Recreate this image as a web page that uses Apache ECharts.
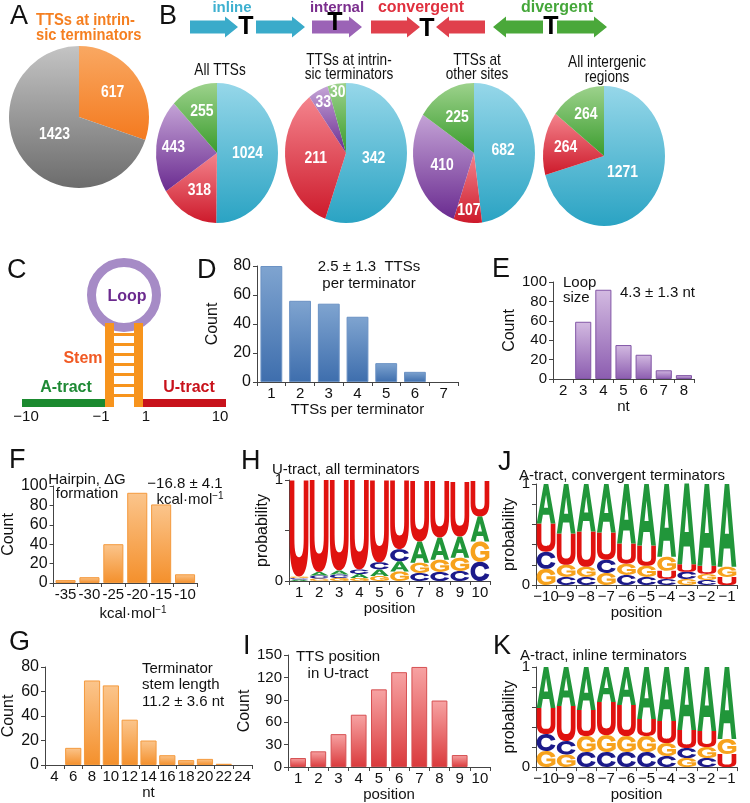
<!DOCTYPE html>
<html><head><meta charset="utf-8">
<script src="https://cdn.jsdelivr.net/npm/echarts@6/dist/echarts.min.js"></script>
<style>html,body{margin:0;padding:0;background:#fff}#c{width:750px;height:803px}</style>
</head><body><div id="c"></div>
<script>
// ================= DATA =================
// Panel A
const pieALabels = ['TTSs at intrinsic terminators', 'other TTSs'];
const pieAValues = [617, 1423];
// Panel B (order: inline, convergent, internal, divergent)
const tssClasses = ['inline', 'convergent', 'internal', 'divergent'];
const allTTSs = [1024, 318, 443, 255];
const intrinsicTTSs = [342, 211, 33, 30];
const otherTTSs = [682, 107, 410, 225];
const intergenicRegions = [1271, 264, 0, 264];
// Panel D
const ttsPerTermCats = ['1', '2', '3', '4', '5', '6', '7'];
const ttsPerTermCounts = [80, 56, 54, 45, 13, 7, 0];
// Panel E
const loopCats = ['2', '3', '4', '5', '6', '7', '8'];
const loopCounts = [0, 59, 92, 35, 25, 9, 4];
// Panel F
const dGCats = ['-35', '-30', '-25', '-20', '-15', '-10'];
const dGCounts = [3, 6, 40, 93, 81, 9];
// Panel G
const stemCats = ['4', '6', '8', '10', '12', '14', '16', '18', '20', '22', '24'];
const stemCounts = [0, 14, 69, 65, 37, 20, 8, 4, 5, 1, 0];
// Panel I
const ttsPosCats = ['1', '2', '3', '4', '5', '6', '7', '8', '9', '10'];
const ttsPosCounts = [12, 21, 44, 70, 104, 127, 134, 89, 16, 0];
// Panel H (U-tract, all terminators), positions 1..10
const uTractPos = ['1', '2', '3', '4', '5', '6', '7', '8', '9', '10'];
const hA = [0.015, 0.035, 0.04, 0.04, 0.065, 0.10, 0.21, 0.22, 0.21, 0.25];
const hC = [0.015, 0.03, 0.035, 0.045, 0.07, 0.12, 0.08, 0.09, 0.10, 0.19];
const hG = [0.015, 0.025, 0.03, 0.03, 0.05, 0.095, 0.10, 0.12, 0.13, 0.20];
const hU = [0.95, 0.91, 0.895, 0.885, 0.81, 0.68, 0.60, 0.56, 0.54, 0.35];
// Panel J (A-tract, convergent), positions -10..-1
const aTractPos = ['\u221210', '\u22129', '\u22128', '\u22127', '\u22126', '\u22125', '\u22124', '\u22123', '\u22122', '\u22121'];
const jA = [0.39, 0.49, 0.47, 0.48, 0.59, 0.61, 0.72, 0.80, 0.81, 0.82];
const jC = [0.17, 0.08, 0.08, 0.13, 0.10, 0.08, 0.06, 0.07, 0.05, 0.0];
const jG = [0.16, 0.12, 0.10, 0.12, 0.11, 0.11, 0.14, 0.06, 0.06, 0.10];
const jU = [0.28, 0.31, 0.35, 0.27, 0.20, 0.20, 0.08, 0.075, 0.08, 0.08];
// Panel K (A-tract, inline)
const kA = [0.41, 0.39, 0.43, 0.35, 0.38, 0.52, 0.54, 0.63, 0.64, 0.72];
const kC = [0.17, 0.135, 0.15, 0.15, 0.15, 0.15, 0.11, 0.10, 0.09, 0.0];
const kG = [0.16, 0.125, 0.16, 0.17, 0.16, 0.16, 0.13, 0.09, 0.11, 0.15];
const kU = [0.26, 0.35, 0.26, 0.33, 0.31, 0.17, 0.22, 0.18, 0.16, 0.13];

// ================= STYLE =================
const FONT = '"Liberation Sans", Arial, Helvetica, sans-serif';
const grad = (a, b) => new echarts.graphic.LinearGradient(0, 0, 0, 1, [{offset: 0, color: a}, {offset: 1, color: b}]);
const CLASS_COLORS = [['#96d7e9', '#2aa3c3'], ['#f4848d', '#cd1a2b'], ['#c4a3d6', '#6a2b90'], ['#9dd28c', '#3a9c2d']];
const LETTERS = ['A', 'C', 'G', 'U'];
const LETTER_COLORS = ['#21963a', '#1c1a8a', '#f7a21c', '#e0120f'];
const LETTER_PATHS = [
  'M0,100 L38,0 L62,0 L100,100 L75,100 L67,78 L33,78 L25,100 Z M39,60 L61,60 L50,27 Z',
  'M100,34 C94,12 74,0 50,0 C20,0 0,22 0,50 C0,78 20,100 50,100 C74,100 94,88 100,66 L76,60 C72,72 63,78 50,78 C34,78 24,66 24,50 C24,34 34,22 50,22 C63,22 72,28 76,40 Z',
  'M100,34 C94,12 74,0 50,0 C20,0 0,22 0,50 C0,78 20,100 50,100 C70,100 86,92 100,80 L100,46 L52,46 L52,64 L78,64 L78,72 C72,77 62,80 50,80 C34,80 24,66 24,50 C24,34 34,22 50,22 C63,22 72,28 76,40 Z',
  'M0,0 L25,0 L25,60 C25,76 34,80 50,80 C66,80 75,76 75,60 L75,0 L100,0 L100,62 C100,90 82,100 50,100 C18,100 0,90 0,62 Z'
];

function txt(text, x, y, o) {
  o = o || {};
  const el = {
    type: 'text', x: x, y: y, silent: true,
    style: {
      text: text, fill: o.color || '#111', fontSize: o.size || 15, fontWeight: o.weight || 'normal',
      fontFamily: FONT, align: o.align || 'left', textAlign: o.align || 'left',
      verticalAlign: 'middle', textVerticalAlign: 'middle', lineHeight: o.lh || 16
    }
  };
  if (o.rich) el.style.rich = o.rich;
  if (o.scaleX) el.scaleX = o.scaleX;
  return el;
}

function pieSeries(values, colorPairs, cx, cy, rx, ry, fracs) {
  const total = values.reduce((s, v) => s + v, 0);
  const starts = []; let acc = 0;
  values.forEach(v => { starts.push(acc); acc += v; });
  return {
    type: 'custom', coordinateSystem: 'none', silent: true,
    data: values.map(v => [v]),
    renderItem: function (params, api) {
      const i = params.dataIndex, v = api.value(0);
      if (!v) return null;
      const a0 = -Math.PI / 2 + starts[i] / total * Math.PI * 2;
      const a1 = a0 + v / total * Math.PI * 2;
      const m = (a0 + a1) / 2, f = fracs[i];
      return {
        type: 'group', children: [
          {type: 'sector', x: cx, y: cy, scaleY: ry / rx,
           shape: {cx: 0, cy: 0, r0: 0, r: rx, startAngle: a0, endAngle: a1, clockwise: true},
           style: {fill: grad(colorPairs[i][0], colorPairs[i][1])}},
          {type: 'text', x: cx + Math.cos(m) * rx * f, y: cy + Math.sin(m) * ry * f, scaleX: 0.82,
           style: {text: String(v), fill: '#fff', fontSize: 17, fontWeight: 'bold', fontFamily: FONT,
                   align: 'center', textAlign: 'center', verticalAlign: 'middle', textVerticalAlign: 'middle'}}
        ]
      };
    }
  };
}

function logoData(cols) {
  const out = [];
  const n = cols[0].length;
  for (let i = 0; i < n; i++) {
    const items = cols.map((arr, k) => ({k: k, v: arr[i]})).filter(o => o.v > 0).sort((a, b) => a.v - b.v);
    let acc = 0;
    items.forEach(o => { out.push([i, acc, acc + o.v, o.k]); acc += o.v; });
  }
  return out;
}
function renderLetter(params, api) {
  const i = api.value(0), b = api.value(1), t = api.value(2), k = api.value(3);
  const pb = api.coord([i, b]), pt = api.coord([i, t]);
  const w = api.size([1, 0])[0] * 0.93;
  return {type: 'path', shape: {pathData: LETTER_PATHS[k], x: pb[0] - w / 2, y: pt[1], width: w,
          height: Math.max(pb[1] - pt[1], 0.2), layout: 'cover'}, style: {fill: LETTER_COLORS[k]}};
}
function logoSeries(idx, data) {
  return {type: 'custom', xAxisIndex: idx, yAxisIndex: idx, data: data, encode: {x: 0, y: [1, 2]},
          renderItem: renderLetter, silent: true, clip: false};
}

const AX = '#444';
function xCat(gi, data, name, gap) {
  return {gridIndex: gi, type: 'category', data: data, name: name, nameLocation: 'middle', nameGap: gap,
    nameTextStyle: {fontSize: 15, color: '#111', fontFamily: FONT},
    axisLine: {show: true, lineStyle: {color: AX, width: 1}},
    axisTick: {show: true, length: 4, inside: false, lineStyle: {color: AX}},
    axisLabel: {fontSize: 15, color: '#111', margin: 4, interval: 0, fontFamily: FONT},
    splitLine: {show: false}};
}
function yVal(gi, max, interval, name, gap, fmt, lsize) {
  return {gridIndex: gi, type: 'value', min: 0, max: max, interval: interval, name: name, nameLocation: 'middle',
    nameGap: gap, nameTextStyle: {fontSize: 16, color: '#111', fontFamily: FONT},
    axisLine: {show: true, lineStyle: {color: AX, width: 1}},
    axisTick: {show: true, length: 4, inside: false, lineStyle: {color: AX}},
    axisLabel: {fontSize: lsize || 15, color: '#111', margin: 6, fontFamily: FONT, formatter: fmt},
    splitLine: {show: false}};
}
// zero counts are drawn as empty categories (no bar)
function barSeries(idx, data, c1, c2, border, gap) {
  return {type: 'bar', xAxisIndex: idx, yAxisIndex: idx, data: data.map(v => (v === 0 ? '-' : v)),
          barCategoryGap: gap, silent: true,
          itemStyle: {color: grad(c1, c2), borderColor: border, borderWidth: 1}};
}
const probFmt = v => (Math.abs(v) < 1e-9 ? '0' : (Math.abs(v - 1) < 1e-9 ? '1' : ''));

// ---------- arrows for panel B header ----------
function arrow(x0, x1, yc, dir, color) {
  const bh = 6.5, hh = 10.5, hl = 13;
  let pts;
  if (dir > 0) pts = [[x0, yc - bh], [x1 - hl, yc - bh], [x1 - hl, yc - hh], [x1, yc], [x1 - hl, yc + hh], [x1 - hl, yc + bh], [x0, yc + bh]];
  else pts = [[x1, yc - bh], [x0 + hl, yc - bh], [x0 + hl, yc - hh], [x0, yc], [x0 + hl, yc + hh], [x0 + hl, yc + bh], [x1, yc + bh]];
  return {type: 'polygon', shape: {points: pts}, style: {fill: color}, silent: true};
}

const supRich = {s: {fontSize: 10, fontFamily: FONT, color: '#111', padding: [0, 0, 8, 0]}, n: {fontSize: 15, fontFamily: FONT, color: '#111'}};

const graphics = [
  // panel letters
  txt('A', 10, 17, {size: 27}), txt('B', 159, 17, {size: 27}), txt('C', 7, 271, {size: 27}),
  txt('D', 197, 271, {size: 27}), txt('E', 492, 270, {size: 27}), txt('F', 9, 461, {size: 27}),
  txt('G', 9, 643, {size: 27}), txt('H', 241, 462, {size: 27}), txt('I', 243, 647, {size: 27}),
  txt('J', 498, 463, {size: 27}), txt('K', 493, 647, {size: 27}),
  // panel A texts
  txt('TTSs at intrin-\nsic terminators', 36, 28, {size: 16, weight: 'bold', color: '#f57f20', lh: 15, scaleX: 0.92}),
  // panel B header
  arrow(190, 238, 27, 1, '#3aabca'), arrow(256, 305, 27, 1, '#3aabca'),
  txt('T', 246, 27, {size: 25, weight: 'bold', color: '#000', align: 'center'}),
  arrow(312, 362, 27, 1, '#9b63b6'),
  txt('T', 335, 23, {size: 25, weight: 'bold', color: '#000', align: 'center'}),
  arrow(371, 420, 27, 1, '#e0404c'), arrow(436, 485, 27, -1, '#e0404c'),
  txt('T', 427, 29, {size: 25, weight: 'bold', color: '#000', align: 'center'}),
  arrow(493, 543, 27, -1, '#4aa83a'), arrow(557, 607, 27, 1, '#4aa83a'),
  txt('T', 551, 27, {size: 25, weight: 'bold', color: '#000', align: 'center'}),
  txt('inline', 232, 8, {size: 15, weight: 'bold', color: '#3eb0d0', align: 'center'}),
  txt('internal', 337, 8, {size: 15, weight: 'bold', color: '#7b2e8e', align: 'center'}),
  txt('convergent', 421, 8, {size: 16, weight: 'bold', color: '#e0303e', align: 'center'}),
  txt('divergent', 557, 8, {size: 16, weight: 'bold', color: '#45a73a', align: 'center'}),
  // pie titles
  txt('All TTSs', 220, 70, {size: 17, align: 'center', scaleX: 0.8}),
  txt('TTSs at intrin-\nsic terminators', 349, 67, {size: 17, align: 'center', lh: 14, scaleX: 0.8}),
  txt('TTSs at\nother sites', 477, 67, {size: 17, align: 'center', lh: 14, scaleX: 0.8}),
  txt('All intergenic\nregions', 607, 70, {size: 17, align: 'center', lh: 15, scaleX: 0.8}),
  // panel C diagram
  {type: 'circle', shape: {cx: 124, cy: 295, r: 32.5}, style: {fill: 'none', stroke: '#a68bc6', lineWidth: 9}, silent: true},
  {type: 'rect', shape: {x: 22, y: 399, width: 84, height: 8}, style: {fill: '#1b8a2f'}, silent: true},
  {type: 'rect', shape: {x: 142, y: 399, width: 84, height: 8}, style: {fill: '#c8121b'}, silent: true},
  {type: 'rect', shape: {x: 105, y: 323, width: 9, height: 84}, style: {fill: '#f7941d'}, silent: true},
  {type: 'rect', shape: {x: 134, y: 323, width: 9, height: 84}, style: {fill: '#f7941d'}, silent: true},
  ...[333, 343, 353, 363, 373, 384, 394].map(y => ({type: 'rect', shape: {x: 113, y: y, width: 22, height: 3}, style: {fill: '#f7941d'}, silent: true})),
  txt('Loop', 127, 297, {size: 16, weight: 'bold', color: '#6b2a8e', align: 'center'}),
  txt('Stem', 83, 359, {size: 16, weight: 'bold', color: '#f15a24', align: 'center'}),
  txt('A-tract', 66, 388, {size: 16, weight: 'bold', color: '#1f8a35', align: 'center'}),
  txt('U-tract', 189, 388, {size: 16, weight: 'bold', color: '#c8121b', align: 'center'}),
  txt('\u221210', 26, 417, {align: 'center'}), txt('\u22121', 101, 417, {align: 'center'}),
  txt('1', 146, 417, {align: 'center'}), txt('10', 220, 417, {align: 'center'}),
  // annotations
  txt('2.5 \u00b1 1.3  TTSs\nper terminator', 369, 275, {align: 'center', lh: 17}),
  txt('Loop\nsize', 563, 290, {lh: 15}),
  txt('4.3 \u00b1 1.3 nt', 620, 293),
  txt('Hairpin, \u0394G\nformation', 87, 487, {align: 'center', lh: 14}),
  txt('\u221216.8 \u00b1 4.1', 185, 484, {align: 'center'}),
  txt('{n|kcal\u00b7mol}{s|\u22121}', 190, 500, {align: 'center', rich: supRich}),
  txt('Terminator\nstem length\n11.2 \u00b1 3.6 nt', 142, 685, {lh: 16.5}),
  txt('TTS position\nin U-tract', 338, 665, {align: 'center', lh: 17}),
  txt('U-tract, all terminators', 272, 470),
  txt('A-tract, convergent terminators', 519, 476),
  txt('A-tract, inline terminators', 520, 656),
  txt('{n|kcal\u00b7mol}{s|\u22121}', 133, 614, {align: 'center', rich: supRich}),
  txt('other TTSs', 84, 163, {size: 17, weight: 'bold', color: '#cfcfcf', align: 'center', scaleX: 0.9})
];

const option = {
  animation: false,
  textStyle: {fontFamily: FONT},
  grid: [
    {left: 257, top: 266, width: 201, height: 116},  // D
    {left: 553, top: 282, width: 141, height: 97},   // E
    {left: 47, top: 486, width: 150, height: 97},    // F
    {left: 45, top: 667, width: 207, height: 98},    // G
    {left: 289, top: 480, width: 201, height: 101},  // H
    {left: 288, top: 655, width: 202, height: 112},  // I
    {left: 536, top: 484, width: 201, height: 101},  // J
    {left: 536, top: 667, width: 201, height: 101}   // K
  ],
  xAxis: [
    xCat(0, ttsPerTermCats, 'TTSs per terminator', 18),
    xCat(1, loopCats, 'nt', 19),
    xCat(2, dGCats, '', 20),
    xCat(3, stemCats, 'nt', 20),
    xCat(4, uTractPos, 'position', 19),
    xCat(5, ttsPosCats, 'position', 18),
    xCat(6, aTractPos, 'position', 20),
    xCat(7, aTractPos, 'position', 18)
  ],
  yAxis: [
    yVal(0, 80, 20, 'Count', 36, undefined, 16),
    yVal(1, 100, 20, 'Count', 32),
    yVal(2, 100, 20, 'Count', 30, undefined, 16),
    yVal(3, 80, 20, 'Count', 28, undefined, 16),
    yVal(4, 1, 0.5, 'probability', 14, probFmt),
    yVal(5, 150, 30, 'Count', 26),
    yVal(6, 1, 0.2, 'probability', 11, probFmt),
    yVal(7, 1, 0.2, 'probability', 11, probFmt)
  ],
  series: [
    pieSeries(pieAValues, [['#f9a862', '#f47a1f'], ['#c4c4c4', '#6c6c6c']], 79, 117, 70, 71, [0.59, 0.43]),
    pieSeries(allTTSs, CLASS_COLORS, 217, 153, 61, 70, [0.5, 0.6, 0.72, 0.65]),
    pieSeries(intrinsicTTSs, CLASS_COLORS, 346, 153, 61, 70, [0.46, 0.5, 0.82, 0.88]),
    pieSeries(otherTTSs, CLASS_COLORS, 474, 153, 61, 70, [0.48, 0.82, 0.55, 0.58]),
    pieSeries(intergenicRegions, CLASS_COLORS, 604, 156, 61, 70, [0.38, 0.64, 0, 0.67]),
    barSeries(0, ttsPerTermCounts, '#7fa4d0', '#3e6ead', '#6b92c4', '24%'),
    barSeries(1, loopCounts, '#d3bae1', '#8c5db0', '#8256a6', '20%'),
    barSeries(2, dGCounts, '#fbc58c', '#f4902c', '#f49a3e', '16%'),
    barSeries(3, stemCounts, '#fbc58c', '#f4902c', '#f49a3e', '14%'),
    barSeries(5, ttsPosCounts, '#f7a3a3', '#da3a3c', '#d65052', '22%'),
    logoSeries(4, logoData([hA, hC, hG, hU])),
    logoSeries(6, logoData([jA, jC, jG, jU])),
    logoSeries(7, logoData([kA, kC, kG, kU]))
  ],
  graphic: {elements: graphics}
};

const chart = echarts.init(document.getElementById('c'), null, {renderer: 'canvas', width: 750, height: 803});
chart.setOption(option);
</script>
</body></html>
